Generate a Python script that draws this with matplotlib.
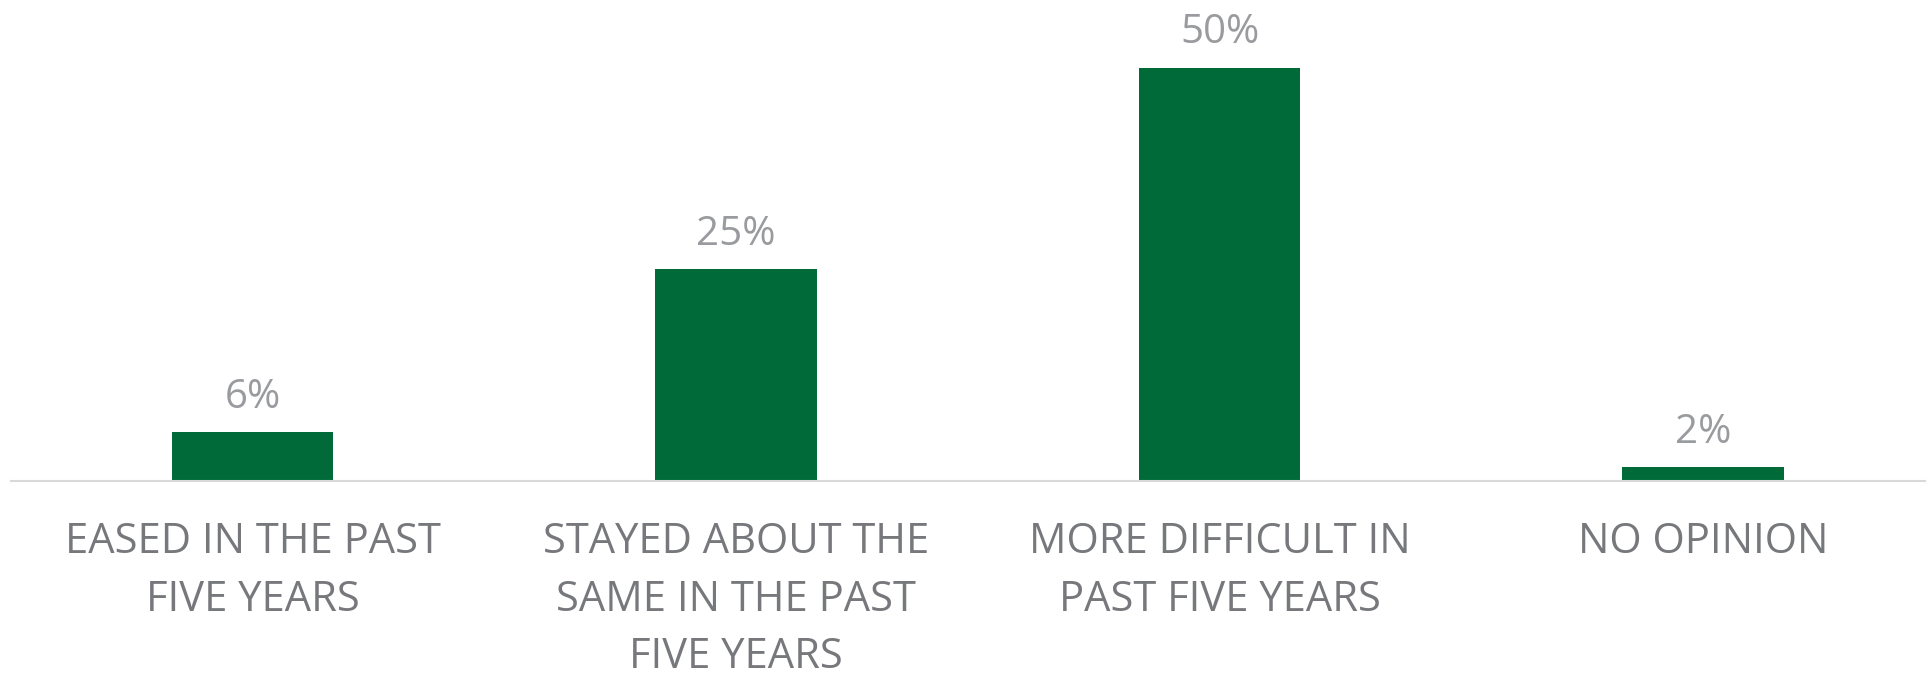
import matplotlib
matplotlib.use('Agg')
import matplotlib.pyplot as plt
import numpy as np

# Survey answers, in percent
categories = ['EASED IN THE PAST\nFIVE YEARS',
              'STAYED ABOUT THE\nSAME IN THE PAST\nFIVE YEARS',
              'MORE DIFFICULT IN\nPAST FIVE YEARS',
              'NO OPINION']
values = [5.9, 25.6, 50.0, 1.7]
value_labels = ['6%', '25%', '50%', '2%']

bar_color = '#006a39'
value_color = '#999b9e'
label_color = '#76787b'

plt.rcParams['font.family'] = ['Open Sans', 'DejaVu Sans']

fig = plt.figure(figsize=(19.26, 6.78), dpi=100)
# axes placed so that the baseline sits where the reference has it
ax = fig.add_axes([10.75 / 1926, 197 / 678, 1934 / 1926, 481 / 678])

x = np.arange(len(categories))
bars = ax.bar(x, values, width=0.333, color=bar_color, zorder=2)

for bar, lab in zip(bars, value_labels):
    ax.annotate(lab, (bar.get_x() + bar.get_width() / 2, bar.get_height()),
                xytext=(0, 17.5), textcoords='offset points',
                ha='center', va='baseline', fontsize=29, color=value_color)

ax.set_xlim(-0.5, len(categories) - 0.5)
ax.set_ylim(0, 58.2)
ax.set_xticks(x)
ax.set_xticklabels(categories, fontsize=30, color=label_color, linespacing=1.48)
ax.tick_params(axis='x', length=0, pad=29)
ax.set_yticks([])

for side in ['top', 'right', 'left']:
    ax.spines[side].set_visible(False)
ax.spines['bottom'].set_color('#d9d9d9')
ax.spines['bottom'].set_linewidth(1.5)

fig.savefig('out.png', dpi=100)
